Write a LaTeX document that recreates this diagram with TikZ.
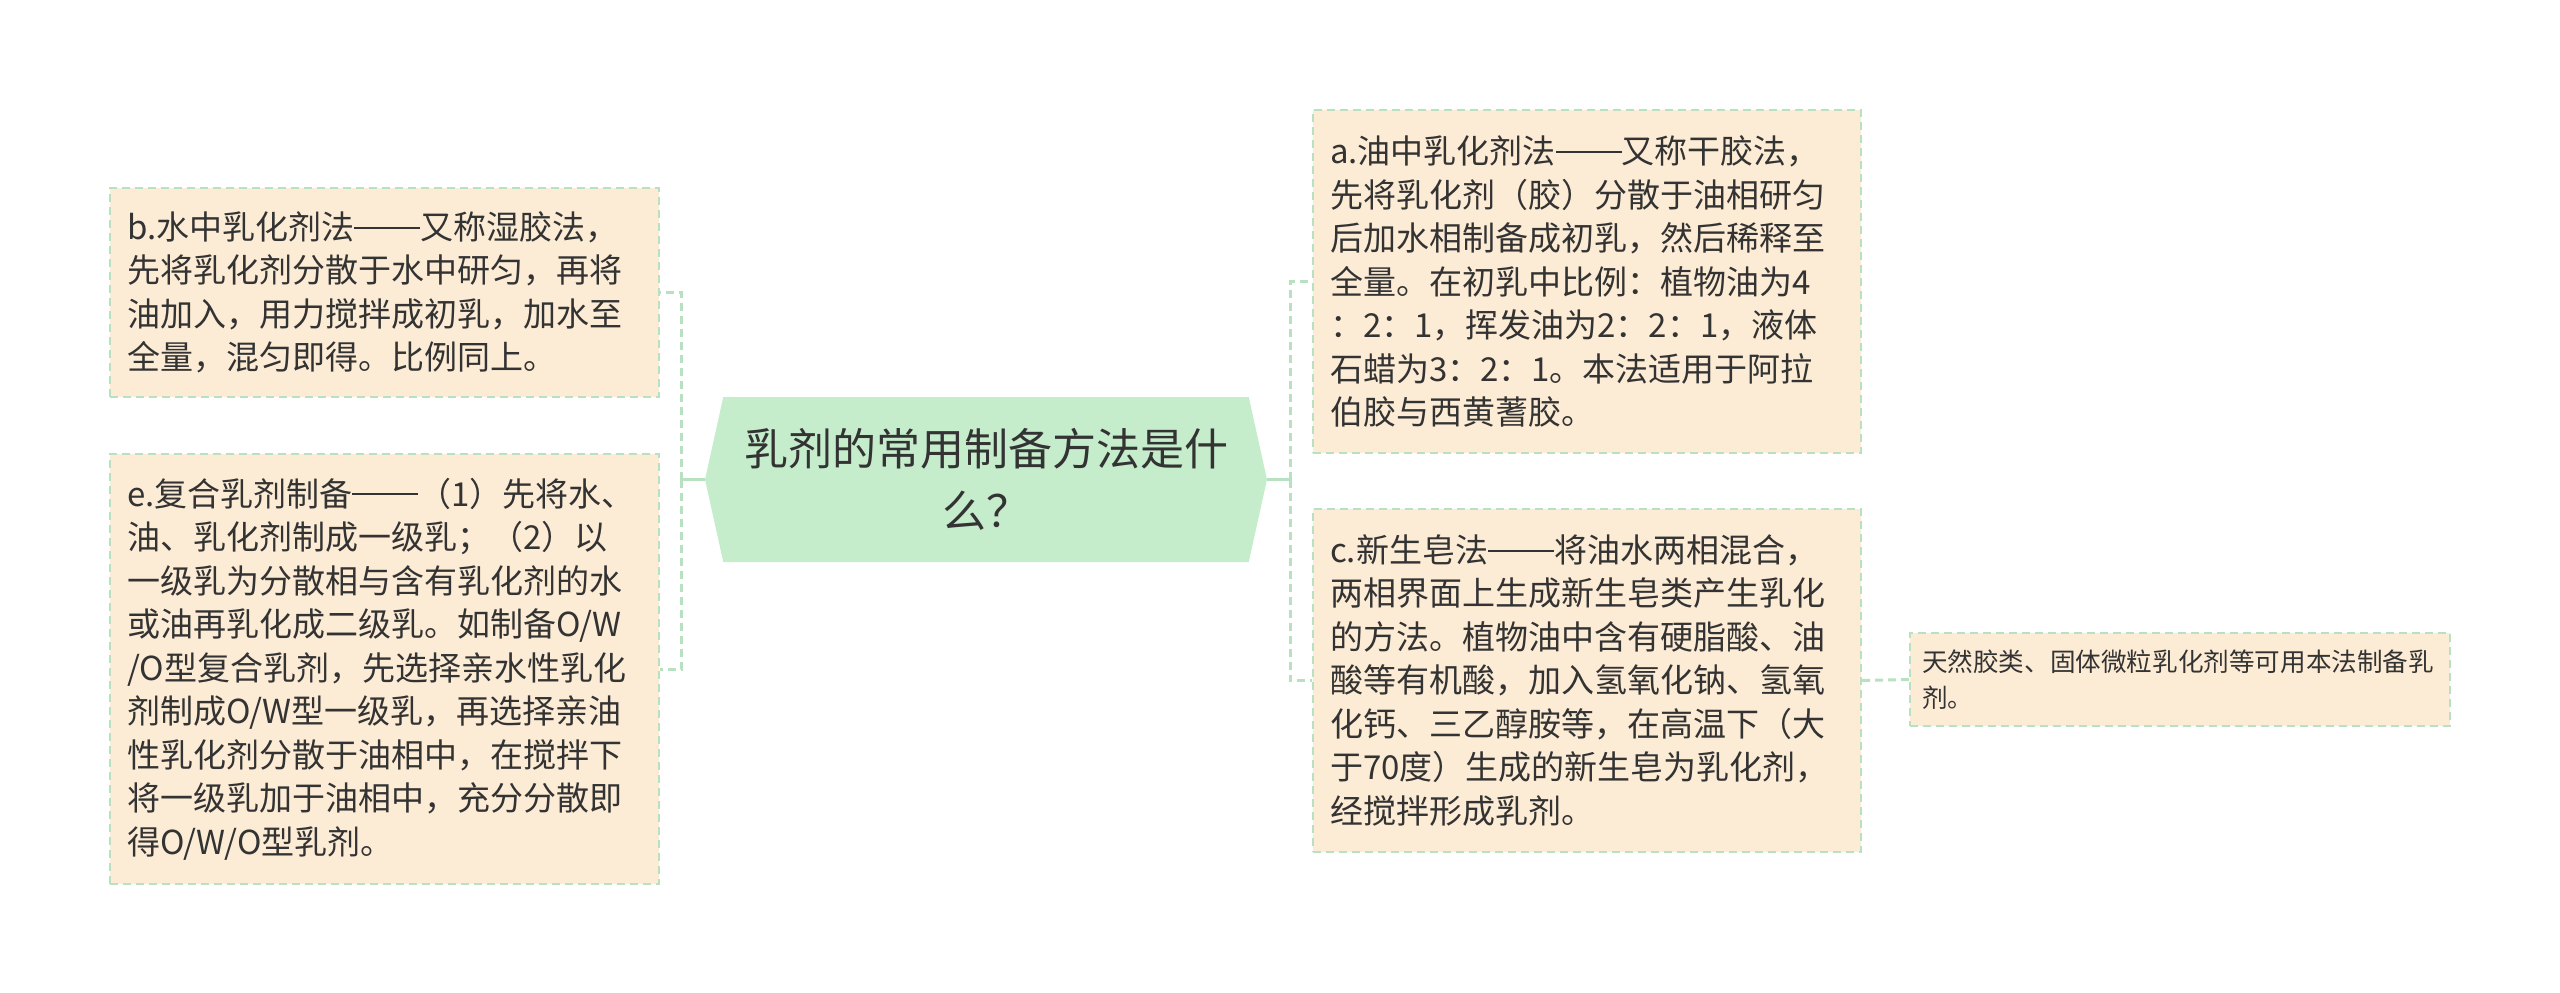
\documentclass[tikz,border=0pt]{standalone}
\usepackage{fontspec}
\usepackage{tikz}
\usepackage{xcolor}
\usetikzlibrary{positioning, calc, shapes.symbols}
\newfontfamily\cjk{Noto Sans CJK SC}
\newcommand{\ddash}{\rule[0.33em]{2em}{0.055em}}
\definecolor{peach}{RGB}{253,236,213}
\definecolor{mint}{RGB}{197,236,203}
\definecolor{linkgreen}{RGB}{184,225,194}
\definecolor{inkgray}{RGB}{51,51,51}
\tikzset{
  leaf/.style={rectangle, fill=peach, draw=linkgreen, line width=2pt, dash pattern=on 8pt off 5pt,
    inner sep=17pt, align=left, text=inkgray, font=\cjk\fontsize{33}{43.5}\selectfont},
  link/.style={draw=linkgreen, line width=3pt},
}

\begin{document}
\begin{tikzpicture}[x=1pt, y=-1pt]
        \useasboundingbox (0,0) rectangle (2560,993);
        \node[signal, signal to=west and east, signal pointer angle=155, fill=mint, minimum width=562pt, minimum height=165pt,
            align=center, text=inkgray, font=\cjk\fontsize{44}{62}\selectfont] (m) at (986,479.5) {乳剂的常用制备方法是什\\么？};
        \node[leaf, text width=515pt, minimum height=209pt] (b) at (384.5,292.5) {b.水中乳化剂法\ddash 又称湿胶法，\\先将乳化剂分散于水中研匀，再将\\油加入，用力搅拌成初乳，加水至\\全量，混匀即得。比例同上。};
        \node[leaf, text width=515pt, minimum height=430pt] (e) at (384.5,669) {e.复合乳剂制备\ddash （1）先将水、\\油、乳化剂制成一级乳；（2）以\\一级乳为分散相与含有乳化剂的水\\或油再乳化成二级乳。如制备O/W\\/O型复合乳剂，先选择亲水性乳化\\剂制成O/W型一级乳，再选择亲油\\性乳化剂分散于油相中，在搅拌下\\将一级乳加于油相中，充分分散即\\得O/W/O型乳剂。};
        \node[leaf, text width=514pt, minimum height=343pt] (a) at (1587,281.5) {a.油中乳化剂法\ddash 又称干胶法，\\先将乳化剂（胶）分散于油相研匀\\后加水相制备成初乳，然后稀释至\\全量。在初乳中比例：植物油为4\\：2：1，挥发油为2：2：1，液体\\石蜡为3：2：1。本法适用于阿拉\\伯胶与西黄蓍胶。};
        \node[leaf, text width=514pt, minimum height=343pt] (c) at (1587,680.5) {c.新生皂法\ddash 将油水两相混合，\\两相界面上生成新生皂类产生乳化\\的方法。植物油中含有硬脂酸、油\\酸等有机酸，加入氢氧化钠、氢氧\\化钙、三乙醇胺等，在高温下（大\\于70度）生成的新生皂为乳化剂，\\经搅拌形成乳剂。};
        \node[leaf, inner sep=12pt, text width=516pt, minimum height=93pt, font=\cjk\fontsize{25.6}{36}\selectfont] (s) at (2180,679.5) {天然胶类、固体微粒乳化剂等可用本法制备乳\\剂。};
        % elbow links
        \coordinate (lj) at ($(m.west)+(-23,0)$);
        \coordinate (rj) at ($(m.east)+(23,0)$);
        \draw[link] (m.west) -- (lj);
        \draw[link] (m.east) -- (rj);
        \draw[link, dash pattern=on 8pt off 5pt] (lj) |- (b.east);
        \draw[link, dash pattern=on 8pt off 5pt] (lj) |- (e.east);
        \draw[link, dash pattern=on 8pt off 5pt] (rj) |- (a.west);
        \draw[link, dash pattern=on 8pt off 5pt] (rj) |- (c.west);
        \draw[link, dash pattern=on 8pt off 5pt] (c.east) -- (s.west);
    \end{tikzpicture}
\end{document}
